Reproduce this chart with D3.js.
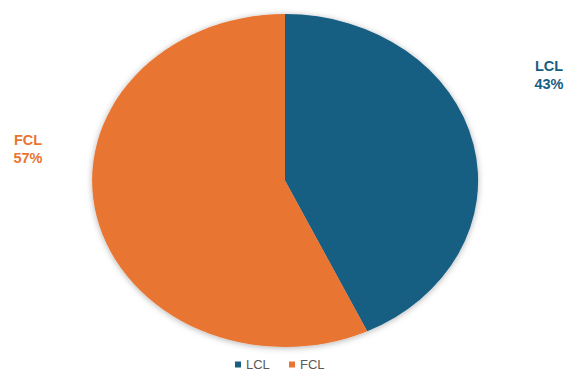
<!DOCTYPE html>
<html>
<head>
<meta charset="utf-8">
<script src="https://cdn.jsdelivr.net/npm/d3@7"></script>
<style>
  body { margin: 0; background: #fff; }
  text { font-family: "Liberation Sans", Arial, sans-serif; }
</style>
</head>
<body>
<svg id="chart" width="566" height="372"></svg>
<script>
let width = 566,
  height = 372

let categories = ["LCL", "FCL"]
let shares = [43, 57]
let colors = ["#175e82", "#e87532"]

let center = {x: 285, y: 180.5},
  radius = {x: 193, y: 166.5}

let svg = d3.select("#chart")

let defs = svg.append("defs")
let shadow = defs.append("filter")
  .attr("id", "shadow")
  .attr("x", "-10%").attr("y", "-10%")
  .attr("width", "120%").attr("height", "120%")
shadow.append("feDropShadow")
  .attr("dx", 0).attr("dy", 1)
  .attr("stdDeviation", 3)
  .attr("flood-color", "#000")
  .attr("flood-opacity", 0.3)

let data = categories.map((c, i) => ({name: c, value: shares[i], color: colors[i]}))

let pie = d3.pie()
  .sort(null)
  .value(d => d.value)

let arc = d3.arc()
  .innerRadius(0)
  .outerRadius(1)

let outer = svg.append("g")
  .attr("filter", "url(#shadow)")

outer.append("g")
  .attr("transform", `translate(${center.x},${center.y}) scale(${radius.x},${radius.y})`)
  .selectAll("path")
  .data(pie(data)).enter()
  .append("path")
  .attr("d", arc)
  .attr("fill", d => d.data.color)

// data labels sit outside the pie, like excel puts them
let labelPos = [{x: 549, y: 71}, {x: 28, y: 145}]
let labels = svg.append("g")
  .selectAll("text")
  .data(data).enter()
  .append("text")
  .attr("text-anchor", "middle")
  .attr("font-size", 14.5)
  .attr("font-weight", "bold")
  .attr("fill", d => d.color)
  .attr("x", (d, i) => labelPos[i].x)
  .attr("y", (d, i) => labelPos[i].y)

labels.append("tspan").text(d => d.name)
labels.append("tspan")
  .attr("x", (d, i) => labelPos[i].x)
  .attr("dy", 17.5)
  .text(d => d.value + "%")

// legend
let legendX = d3.scalePoint()
  .domain(categories)
  .range([235, 289])

let legend = svg.append("g")
  .selectAll("g")
  .data(data).enter()
  .append("g")
  .attr("transform", d => `translate(${legendX(d.name)},369)`)

legend.append("rect")
  .attr("y", -7.5)
  .attr("width", 6)
  .attr("height", 6)
  .attr("fill", d => d.color)

legend.append("text")
  .attr("x", 11)
  .attr("font-size", 13)
  .attr("fill", "#595959")
  .text(d => d.name)
</script>
</body>
</html>
